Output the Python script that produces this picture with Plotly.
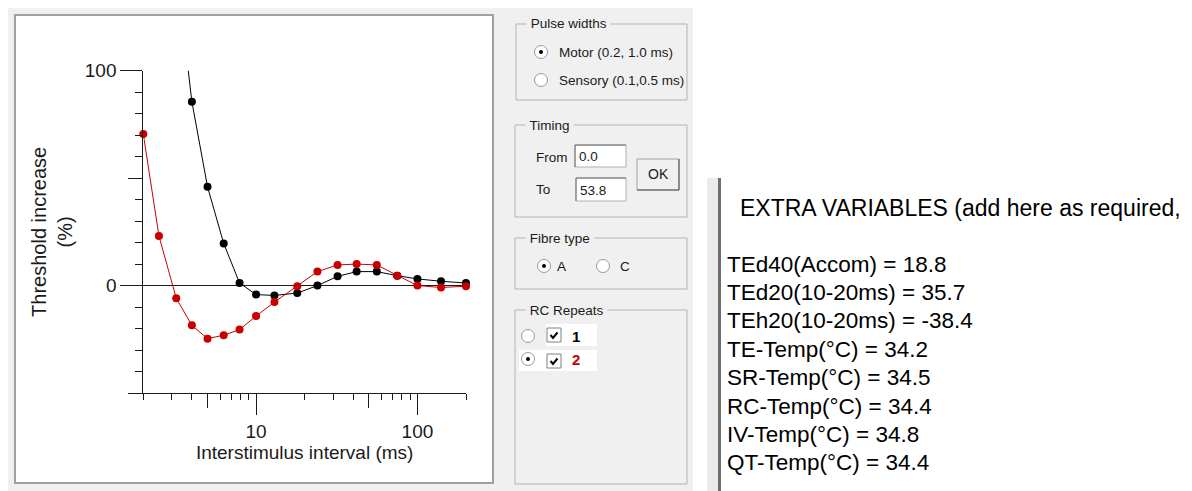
import math
import plotly.graph_objects as go

# ---------------- data ----------------
ISI_MS = [2, 2.5, 3.2, 4, 5, 6.3, 7.9, 10, 13, 18, 24, 32, 42, 56, 75, 100, 140, 200]
REPEAT_1 = [None, None, 148.0, 85.6, 46.0, 19.6, 1.2, -4.2, -4.6, -3.5, 0.0,
            4.3, 6.5, 6.5, 4.6, 3.1, 2.0, 1.2]
REPEAT_2 = [70.5, 23.1, -5.9, -18.5, -24.7, -23.1, -20.5, -14.2, -7.7, -0.3, 6.5,
            9.6, 10.0, 9.6, 4.6, 0.0, -0.9, -0.3]

X_RANGE = [2, 200]
Y_RANGE = [-50, 100]
X_LABELED_TICKS = [10, 100]
X_MID_TICKS = [5, 50]
X_MINOR_TICKS = [2, 3, 4, 6, 7, 8, 9, 20, 30, 40, 60, 70, 80, 90, 200]
Y_LABELED_TICKS = [0, 100]
Y_MID_TICKS = [-50, 50]
Y_MINOR_STEP = 10

X_TITLE = "Interstimulus interval (ms)"
Y_TITLE = "Threshold increase<br>(%)"

PULSE_WIDTHS = ["Motor (0.2, 1.0 ms)", "Sensory (0.1,0.5 ms)"]
TIMING_FROM = "0.0"
TIMING_TO = "53.8"
FIBRE_TYPES = ["A", "C"]
RC_REPEATS = ["1", "2"]

EXTRA_HEADER = "EXTRA VARIABLES (add here as required,"
EXTRA_NAMES = ["TEd40(Accom)", "TEd20(10-20ms)", "TEh20(10-20ms)", "TE-Temp(°C)",
               "SR-Temp(°C)", "RC-Temp(°C)", "IV-Temp(°C)", "QT-Temp(°C)"]
EXTRA_VALUES = ["18.8", "35.7", "-38.4", "34.2", "34.5", "34.4", "34.8", "34.4"]

# ---------------- layout helpers (page pixel -> paper) ----------------
PAGE_W, PAGE_H = 1192, 491
OFF = 8                      # default body margin of the html page
W, H = PAGE_W - OFF, PAGE_H - OFF
RED = "#c80000"
INK = "#1a1a1a"
WIN = "#f0f0f0"
FONT = "Liberation Sans"


def px(x):
    return (x - OFF) / W


def py(y):
    return 1 - (y - OFF) / H


shapes = []
annotations = []


def rect(x0, y0, x1, y1, fill=None, line=None, width=1, layer="below"):
    shapes.append(dict(type="rect", xref="paper", yref="paper",
                       x0=px(x0), x1=px(x1), y0=py(y1), y1=py(y0),
                       fillcolor=fill if fill else "rgba(0,0,0,0)",
                       line=dict(color=line if line else "rgba(0,0,0,0)", width=width if line else 0),
                       layer=layer))


def seg(x0, y0, x1, y1, color, width=1, layer="above"):
    shapes.append(dict(type="line", xref="paper", yref="paper",
                       x0=px(x0), x1=px(x1), y0=py(y0), y1=py(y1),
                       line=dict(color=color, width=width), layer=layer))


def text(x, y, s, size=13, color=INK, anchor="left", bg=None, bold=False, family=FONT):
    if bold:
        s = "<b>" + s + "</b>"
    annotations.append(dict(xref="paper", yref="paper", x=px(x), y=py(y), text=s,
                            showarrow=False, xanchor=anchor, yanchor="middle",
                            font=dict(family=family, size=size, color=color),
                            bgcolor=bg if bg else "rgba(0,0,0,0)", borderpad=0))


def radio(cx, cy, selected):
    r = 6.5
    shapes.append(dict(type="circle", xref="paper", yref="paper",
                       x0=px(cx - r), x1=px(cx + r), y0=py(cy + r), y1=py(cy - r),
                       fillcolor="white", line=dict(color="#9a9a9a", width=1), layer="above"))
    if selected:
        d = 2
        shapes.append(dict(type="circle", xref="paper", yref="paper",
                           x0=px(cx - d), x1=px(cx + d), y0=py(cy + d), y1=py(cy - d),
                           fillcolor="black", line=dict(color="black", width=0), layer="above"))


def checkbox(x0, y0, size=14):
    rect(x0, y0, x0 + size, y0 + size, fill="white", line="#808080", width=1, layer="above")
    path = "M {} {} L {} {} L {} {}".format(
        px(x0 + 3.5), py(y0 + 7), px(x0 + 6), py(y0 + 10), px(x0 + 10.5), py(y0 + 4.5))
    shapes.append(dict(type="path", xref="paper", yref="paper", path=path,
                       line=dict(color="black", width=2), layer="above"))


def groupbox(x0, y0, x1, y1, label):
    rect(x0, y0, x1, y1, line="#b4b4b4", width=1, layer="above")
    text(x0 + 10, y0, " " + label + " ", size=13.5, bg=WIN)


# window background and plot panel
rect(OFF, OFF, 693, PAGE_H, fill=WIN)
rect(15, 15, 493, 483, fill="white", line="#a0a0a0", width=2)

# control panel
groupbox(516, 24, 687, 100, "Pulse widths")
radio(541, 52, True)
text(558, 52, PULSE_WIDTHS[0], size=13.5)
radio(541, 80, False)
text(558, 80, PULSE_WIDTHS[1], size=13.5)

groupbox(515, 125, 687, 217, "Timing")
text(535, 157, "From", size=13.5)
text(535, 189, "To", size=13.5)
rect(575, 145, 626, 167, fill="white", line="#b0b0b0", width=1, layer="above")
seg(575, 145, 626, 145, "#6e6e6e")
seg(575, 145, 575, 167, "#6e6e6e")
text(578, 156, TIMING_FROM, size=13.5)
rect(576, 178, 626, 201, fill="white", line="#b0b0b0", width=1, layer="above")
seg(576, 178, 626, 178, "#6e6e6e")
seg(576, 178, 576, 201, "#6e6e6e")
text(579, 190, TIMING_TO, size=13.5)
rect(637, 159, 679, 190, fill=WIN, line="#a0a0a0", width=1, layer="above")
seg(637, 190, 679, 190, "#505050")
seg(679, 159, 679, 190, "#505050")
text(658, 174, "OK", anchor="center", size=14)

groupbox(515, 238, 687, 289, "Fibre type")
radio(544, 266, True)
text(556, 266, FIBRE_TYPES[0], size=13.5)
radio(603, 266, False)
text(619, 266, FIBRE_TYPES[1], size=13.5)

groupbox(515, 310, 687, 484, "RC Repeats")
rect(546, 324, 597, 346, fill="white", layer="above")
rect(519, 350, 597, 371, fill="white", layer="above")
radio(528, 336, False)
radio(528, 359, True)
checkbox(547, 328)
checkbox(547, 354)
text(571, 336, RC_REPEATS[0], size=15, color="black", bold=True)
text(571, 359, RC_REPEATS[1], size=15, color=RED, bold=True)

# right text panel
rect(707, 178, 718, PAGE_H, fill="#ebebeb")
rect(718, 178, 721, PAGE_H, fill="#6e6e6e")
text(739, 208, EXTRA_HEADER, size=23, color="black")
for i, (name, val) in enumerate(zip(EXTRA_NAMES, EXTRA_VALUES)):
    text(726, 264 + 28.4 * i, "{} = {}".format(name, val), size=22.5, color="black")

# ---------------- chart ----------------
def in_range(vals):
    return [v if (v is not None and Y_RANGE[0] <= v <= Y_RANGE[1]) else None for v in vals]


fig = go.Figure()
fig.add_trace(go.Scatter(x=ISI_MS, y=REPEAT_1, mode="lines", line=dict(color="black", width=1),
                         cliponaxis=True, showlegend=False, hoverinfo="skip"))
fig.add_trace(go.Scatter(x=ISI_MS, y=in_range(REPEAT_1), mode="markers",
                         marker=dict(color="black", size=8), cliponaxis=False, showlegend=False))
fig.add_trace(go.Scatter(x=ISI_MS, y=REPEAT_2, mode="lines", line=dict(color=RED, width=1),
                         cliponaxis=True, showlegend=False, hoverinfo="skip",
                         xaxis="x2", yaxis="y2"))
fig.add_trace(go.Scatter(x=ISI_MS, y=in_range(REPEAT_2), mode="markers",
                         marker=dict(color=RED, size=8), cliponaxis=False, showlegend=False,
                         xaxis="x2", yaxis="y2"))

x_dom = [px(143.3), px(466)]
y_dom = [py(393), py(70.7)]
EPS = 1e-5  # tiny padding so points sitting exactly on the range edge are not hidden
xr = [math.log10(X_RANGE[0]) - EPS, math.log10(X_RANGE[1]) + EPS]
yr = [Y_RANGE[0] - 1e-3, Y_RANGE[1] + 1e-3]
tickfont = dict(family=FONT, size=19, color=INK)

fig.update_layout(
    width=W, height=H, margin=dict(l=0, r=0, t=0, b=0),
    paper_bgcolor="white", plot_bgcolor="rgba(0,0,0,0)",
    template="none",
    xaxis=dict(type="log", range=xr, domain=x_dom, anchor="y",
               showline=True, linecolor=INK, linewidth=1, showgrid=False, zeroline=False,
               tickmode="array", tickvals=X_LABELED_TICKS,
               ticktext=[str(v) for v in X_LABELED_TICKS],
               ticks="outside", ticklen=21, tickwidth=1, tickcolor=INK, tickfont=tickfont,
               minor=dict(tickvals=X_MINOR_TICKS, ticks="outside", ticklen=6,
                          tickwidth=1, tickcolor=INK, showgrid=False),
               title=dict(text=X_TITLE, font=dict(family=FONT, size=19, color=INK), standoff=2),
               automargin=False, fixedrange=True),
    xaxis2=dict(type="log", range=xr, overlaying="x", anchor="y2", side="bottom",
                showline=False, showgrid=False, zeroline=False,
                tickmode="array", tickvals=X_MID_TICKS, showticklabels=False,
                ticks="outside", ticklen=14, tickwidth=1, tickcolor=INK,
                automargin=False, fixedrange=True),
    yaxis=dict(range=yr, domain=y_dom, anchor="x",
               showline=True, linecolor=INK, linewidth=1, showgrid=False,
               zeroline=True, zerolinecolor=INK, zerolinewidth=1,
               tickmode="array", tickvals=Y_LABELED_TICKS,
               ticktext=[str(v) for v in Y_LABELED_TICKS],
               ticks="outside", ticklen=22, tickwidth=1, tickcolor=INK, tickfont=tickfont,
               minor=dict(tickvals=list(range(Y_RANGE[0], Y_RANGE[1] + 1, Y_MINOR_STEP)),
                          ticks="outside", ticklen=7, tickwidth=1, tickcolor=INK, showgrid=False),
               title=dict(text=Y_TITLE, font=dict(family=FONT, size=20, color=INK), standoff=6),
               automargin=False, fixedrange=True),
    yaxis2=dict(range=yr, overlaying="y", anchor="x2", side="left",
                showline=False, showgrid=False, zeroline=False,
                tickmode="array", tickvals=Y_MID_TICKS, showticklabels=False,
                ticks="outside", ticklen=14, tickwidth=1, tickcolor=INK,
                automargin=False, fixedrange=True),
    shapes=shapes, annotations=annotations,
    showlegend=False, hovermode=False,
)

fig.write_html("out.html", config={"displayModeBar": False, "staticPlot": True})
